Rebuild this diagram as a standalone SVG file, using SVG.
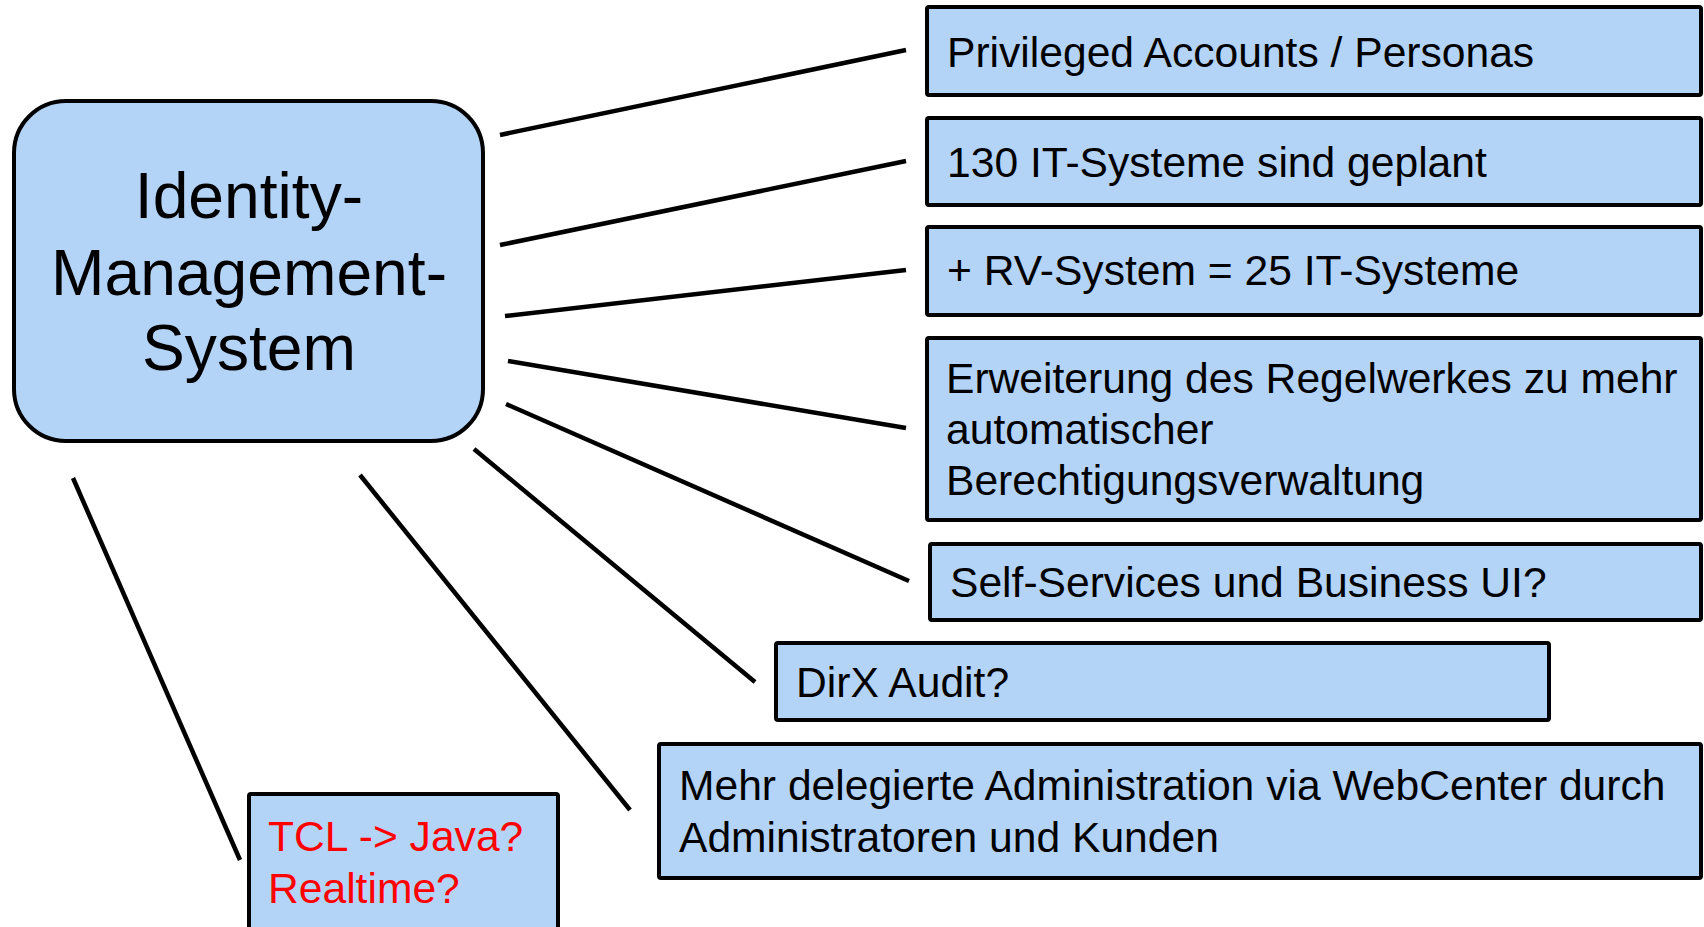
<svg xmlns="http://www.w3.org/2000/svg" width="1704" height="927" viewBox="0 0 1704 927">
<style>
.box{fill:#b4d4f7;stroke:#000;stroke-width:4}
.t{font-family:"Liberation Sans",Arial,sans-serif;font-size:42.6px;fill:#000}
.big{font-family:"Liberation Sans",Arial,sans-serif;font-size:64.2px;fill:#000;text-anchor:middle}
.red{fill:#ff0000}
.c line{stroke:#000;stroke-width:4.5;stroke-linecap:butt}
</style>
<rect width="1704" height="927" fill="#fff"/>
<g class="c" id="connectors">
<line x1="500" y1="135" x2="906" y2="50"/>
<line x1="500" y1="245" x2="906" y2="161"/>
<line x1="505" y1="316" x2="906" y2="270"/>
<line x1="508" y1="361" x2="906" y2="428"/>
<line x1="506" y1="404" x2="909" y2="581"/>
<line x1="474" y1="449" x2="755" y2="682"/>
<line x1="360" y1="475" x2="630" y2="810"/>
<line x1="73" y1="478" x2="240" y2="860"/>
</g>
<g id="ims">
<rect class="box" x="14" y="101" width="469" height="340" rx="52"/>
<text class="big" x="249" y="218">Identity-</text>
<text class="big" x="249" y="295">Management-</text>
<text class="big" x="249" y="370">System</text>
</g>
<g id="n1">
<rect class="box" x="927" y="7" width="774" height="88" rx="2"/>
<text class="t" x="947" y="67">Privileged Accounts / Personas</text>
</g>
<g id="n2">
<rect class="box" x="927" y="118" width="774" height="87" rx="2"/>
<text class="t" x="947" y="177">130 IT-Systeme sind geplant</text>
</g>
<g id="n3">
<rect class="box" x="927" y="227" width="774" height="88" rx="2"/>
<text class="t" x="947" y="285">+ RV-System = 25 IT-Systeme</text>
</g>
<g id="n4">
<rect class="box" x="927" y="338" width="774" height="182" rx="2"/>
<text class="t" x="946" y="393">Erweiterung des Regelwerkes zu mehr</text>
<text class="t" x="946" y="444">automatischer</text>
<text class="t" x="946" y="495">Berechtigungsverwaltung</text>
</g>
<g id="n5">
<rect class="box" x="930" y="544" width="771" height="76" rx="2"/>
<text class="t" x="950" y="597">Self-Services und Business UI?</text>
</g>
<g id="n6">
<rect class="box" x="776" y="643" width="773" height="77" rx="2"/>
<text class="t" x="796" y="697">DirX Audit?</text>
</g>
<g id="n7">
<rect class="box" x="659" y="744" width="1042" height="134" rx="2"/>
<text class="t" x="679" y="800">Mehr delegierte Administration via WebCenter durch</text>
<text class="t" x="679" y="852">Administratoren und Kunden</text>
</g>
<g id="n8">
<rect class="box" x="249" y="794" width="309" height="150" rx="2"/>
<text class="t red" x="268" y="851">TCL -&gt; Java?</text>
<text class="t red" x="268" y="903">Realtime?</text>
</g>
</svg>
